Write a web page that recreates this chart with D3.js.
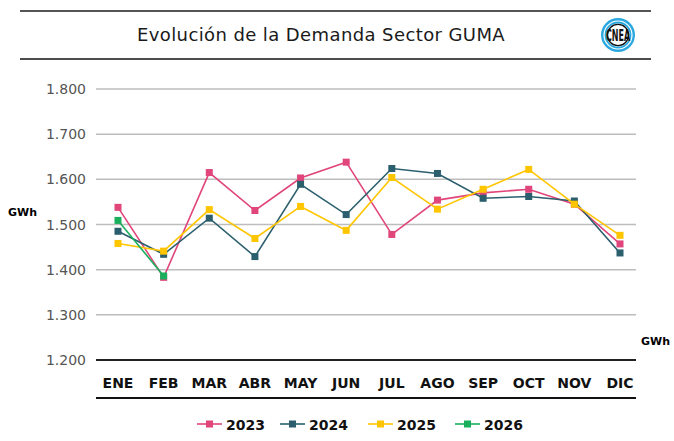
<!DOCTYPE html>
<html lang="es">
<head>
  <meta charset="UTF-8">
  <title>Evolución de la Demanda Sector GUMA</title>
  <script src="https://cdn.jsdelivr.net/npm/d3@7"></script>
  <style>
    body {
      margin: 0;
      padding: 0;
      background: #fff;
      font-family: "DejaVu Sans", sans-serif;
    }
  </style>
</head>
<body>
<div id="chart"></div>

<script>
  // Data (GWh)
  const months = ["ENE", "FEB", "MAR", "ABR", "MAY", "JUN", "JUL", "AGO", "SEP", "OCT", "NOV", "DIC"];
  const years = ["2023", "2024", "2025", "2026"];
  const v2023 = [1538, 1383, 1615, 1531, 1603, 1638, 1478, 1554, 1570, 1578, 1545, 1457];
  const v2024 = [1485, 1434, 1514, 1429, 1589, 1522, 1624, 1613, 1558, 1562, 1552, 1437];
  const v2025 = [1458, 1441, 1533, 1469, 1540, 1487, 1604, 1534, 1578, 1622, 1545, 1476];
  const v2026 = [1509, 1386];
  const yTicks = [1200, 1300, 1400, 1500, 1600, 1700, 1800];
  const colors = ["#e0457b", "#2b5f6e", "#ffc600", "#1aaf5d"];

  const series = years.map((y, i) => ({
    name: y,
    color: colors[i],
    values: [v2023, v2024, v2025, v2026][i].map((v, j) => ({ month: months[j], value: v }))
  }));

  const width = 674;
  const height = 441;

  const svg = d3.select("#chart").append("svg")
          .attr("width", width)
          .attr("height", height)
          .style("display", "block");

  // Header rules and title
  svg.append("line").attr("x1", 20).attr("x2", 651).attr("y1", 11).attr("y2", 11)
          .attr("stroke", "#555").attr("stroke-width", 2);
  svg.append("line").attr("x1", 20).attr("x2", 651).attr("y1", 59).attr("y2", 59)
          .attr("stroke", "#111").attr("stroke-width", 1.5);
  svg.append("text")
          .attr("x", 321).attr("y", 41)
          .attr("text-anchor", "middle")
          .style("font-size", "18px")
          .style("letter-spacing", "0.4px")
          .style("fill", "#1a1a1a")
          .text("Evolución de la Demanda Sector GUMA");

  // CNEA logo
  const logo = svg.append("g").attr("transform", "translate(618,35)");
  logo.append("circle").attr("r", 17).attr("fill", "#29a8e0");
  logo.append("circle").attr("r", 14.6).attr("fill", "#fff");
  logo.append("circle").attr("r", 13.4).attr("fill", "#29a8e0");
  logo.append("circle").attr("r", 11.6).attr("fill", "#fff");
  logo.append("circle").attr("r", 10.6).attr("fill", "none").attr("stroke", "#111").attr("stroke-width", 1.3);
  logo.append("text")
          .attr("text-anchor", "middle")
          .attr("y", 5.5)
          .attr("transform", "scale(0.5,1)")
          .style("font-size", "16px")
          .style("font-weight", "bold")
          .style("fill", "#111")
          .text("CNEA");

  // Scales
  const x = d3.scalePoint().domain(months).range([118, 620]);
  const y = d3.scaleLinear().domain([1200, 1800]).range([360, 89]);

  // Gridlines
  svg.append("g")
          .selectAll("line")
          .data(yTicks)
          .join("line")
          .attr("x1", 96).attr("x2", 636)
          .attr("y1", d => y(d)).attr("y2", d => y(d))
          .attr("stroke", d => d === 1200 ? "#222" : "#bdbdbd")
          .attr("stroke-width", d => d === 1200 ? 2 : 1.5);

  // Y axis labels
  const fmt = d3.format(",");
  svg.append("g")
          .selectAll("text")
          .data(yTicks)
          .join("text")
          .attr("x", 86)
          .attr("y", d => y(d) + 5)
          .attr("text-anchor", "end")
          .style("font-size", "14px")
          .style("fill", "#555")
          .text(d => fmt(d).replace(",", "."));

  // X axis labels
  svg.append("g")
          .selectAll("text")
          .data(months)
          .join("text")
          .attr("x", d => x(d))
          .attr("y", 388)
          .attr("text-anchor", "middle")
          .style("font-size", "14px")
          .style("font-weight", "600")
          .style("fill", "#111")
          .text(d => d);

  svg.append("line").attr("x1", 96).attr("x2", 636).attr("y1", 398).attr("y2", 398)
          .attr("stroke", "#111").attr("stroke-width", 2);

  // Unit labels
  svg.append("text").attr("x", 8).attr("y", 216)
          .style("font-size", "11px").style("font-weight", "bold").text("GWh");
  svg.append("text").attr("x", 641).attr("y", 345)
          .style("font-size", "11px").style("font-weight", "bold").text("GWh");

  // Lines and markers
  const line = d3.line().x(d => x(d.month)).y(d => y(d.value));

  const sg = svg.append("g")
          .selectAll("g")
          .data(series)
          .join("g");

  sg.append("path")
          .attr("d", d => line(d.values))
          .attr("fill", "none")
          .attr("stroke", d => d.color)
          .attr("stroke-width", 1.6);

  sg.selectAll("rect")
          .data(d => d.values.map(v => ({ ...v, color: d.color })))
          .join("rect")
          .attr("x", d => x(d.month) - 3.5)
          .attr("y", d => y(d.value) - 3.5)
          .attr("width", 7)
          .attr("height", 7)
          .attr("fill", d => d.color);

  // Legend
  const legendX = [197, 280, 368, 455];
  const lg = svg.append("g")
          .selectAll("g")
          .data(series)
          .join("g")
          .attr("transform", (d, i) => `translate(${legendX[i]},424)`);

  lg.append("line").attr("x1", 0).attr("x2", 25)
          .attr("stroke", d => d.color).attr("stroke-width", 1.6);
  lg.append("rect").attr("x", 9).attr("y", -3.5).attr("width", 7).attr("height", 7)
          .attr("fill", d => d.color);
  lg.append("text")
          .attr("x", 29).attr("y", 5.5)
          .style("font-size", "14px")
          .style("font-weight", "bold")
          .style("fill", "#111")
          .text(d => d.name);
</script>
</body>
</html>
